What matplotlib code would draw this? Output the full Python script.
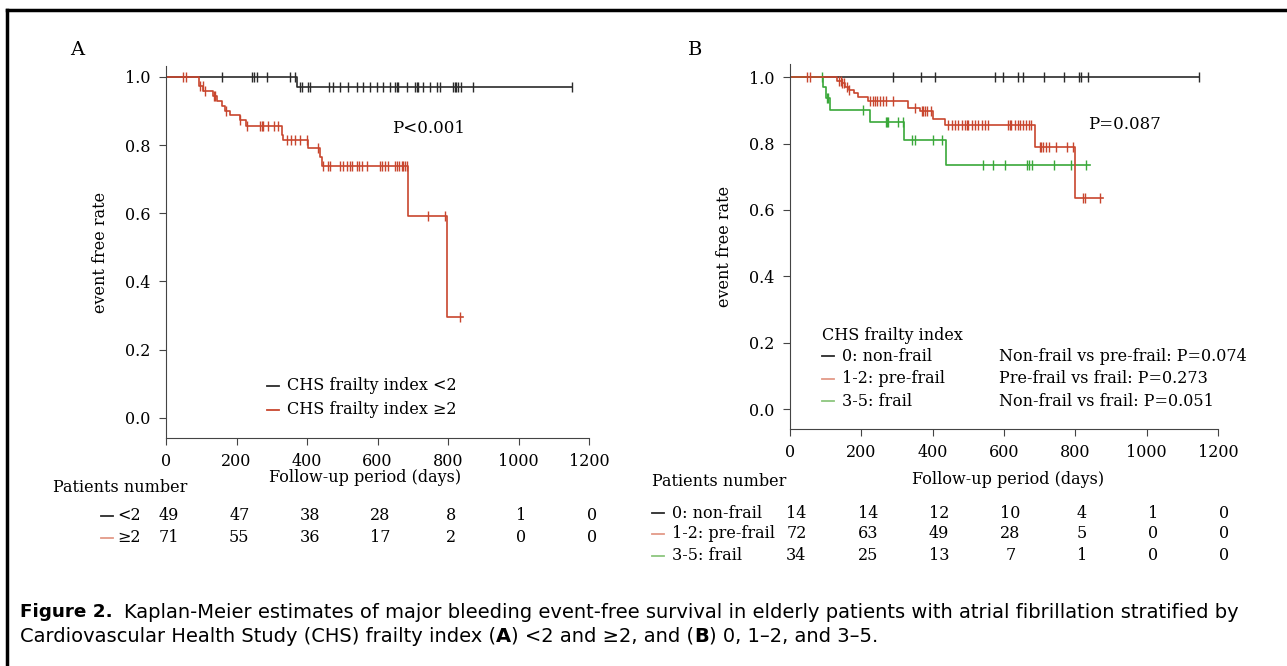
import numpy as np
import matplotlib
matplotlib.use("Agg")
from matplotlib import pyplot as plt
from matplotlib.lines import Line2D
from matplotlib.transforms import blended_transform_factory

# ---- data ----
# Panel A: CHS frailty index <2
a_lo_drop_t = [372]
a_lo_drop_s = [0.971]
a_lo_end = 1153
a_lo_cens = [160, 243, 250, 257, 286, 352, 366, 380, 385, 404, 409, 461, 475, 494,
             517, 541, 560, 579, 598, 617, 635, 650, 654, 659, 683, 706, 711, 716,
             730, 749, 768, 777, 815, 820, 824, 829, 838, 872, 1153]
# Panel A: CHS frailty index >=2
a_hi_drop_t = [95, 106, 134, 144, 158, 167, 182, 210, 227, 328, 333, 402, 437, 442, 687, 798]
a_hi_drop_s = [0.972, 0.958, 0.944, 0.930, 0.915, 0.901, 0.887, 0.873, 0.855, 0.830,
               0.815, 0.791, 0.766, 0.739, 0.591, 0.296]
a_hi_end = 843
a_hi_cens = [47, 57, 97, 104, 112, 137, 140, 170, 210, 231, 267, 271, 274, 290, 305,
             319, 342, 356, 366, 380, 399, 432, 446, 460, 465, 494, 503, 513, 522, 527,
             541, 548, 555, 569, 607, 614, 621, 631, 650, 656, 662, 669, 673, 678, 683,
             744, 791, 834]

# Panel B: 0 non-frail
b0_drop_t = []
b0_drop_s = []
b0_end = 1146
b0_cens = [288, 366, 406, 574, 596, 640, 652, 711, 767, 810, 817, 836, 1146]
# Panel B: 1-2 pre-frail
b1_drop_t = [131, 145, 155, 165, 180, 190, 220, 332, 364, 401, 434, 686, 798]
b1_drop_s = [0.990, 0.982, 0.972, 0.962, 0.952, 0.942, 0.927, 0.907, 0.897, 0.875,
             0.857, 0.789, 0.636]
b1_end = 878
b1_cens = [48, 56, 136, 142, 147, 152, 160, 166, 224, 232, 238, 245, 252, 260, 269,
           289, 350, 369, 374, 378, 383, 395, 444, 453, 462, 471, 481, 490, 495, 500,
           509, 518, 528, 537, 546, 556, 612, 616, 621, 630, 640, 644, 654, 663, 671,
           677, 700, 705, 710, 719, 726, 747, 777, 794, 822, 826, 868]
# Panel B: 3-5 frail
b2_drop_t = [93, 100, 112, 224, 319, 436]
b2_drop_s = [0.970, 0.937, 0.902, 0.865, 0.811, 0.736]
b2_end = 840
b2_cens = [90, 103, 107, 205, 269, 273, 276, 303, 316, 341, 350, 402, 427, 542, 570,
           604, 665, 671, 679, 740, 789, 829]

# at-risk tables
risk_days = [0, 200, 400, 600, 800, 1000, 1200]
risk_a_lo = [49, 47, 38, 28, 8, 1, 0]
risk_a_hi = [71, 55, 36, 17, 2, 0, 0]
risk_b0 = [14, 14, 12, 10, 4, 1, 0]
risk_b1 = [72, 63, 49, 28, 5, 0, 0]
risk_b2 = [34, 25, 13, 7, 1, 0, 0]

yticks = [0.0, 0.2, 0.4, 0.6, 0.8, 1.0]
xticks = [0, 200, 400, 600, 800, 1000, 1200]

BLACK = "#2b2b2b"
RED = "#c8462e"
GREEN = "#3aa83a"
RED_L = "#e39a88"
GREEN_L = "#8cc67e"

plt.rcParams["font.family"] = "DejaVu Serif"
FS = 11.5
W, H = 1287, 666


def km(ax, drop_t, drop_s, end, cens, color):
    t = np.array([0] + drop_t + [end], dtype=float)
    s = np.array([1.0] + drop_s + [drop_s[-1] if drop_s else 1.0])
    ax.step(t, s, where="post", color=color, lw=1.2)
    idx = np.searchsorted(t, np.array(cens, dtype=float), side="right") - 1
    ax.plot(cens, s[idx], ls="none", marker="|", ms=7.5, mew=1.0, color=color)


def style_axes(ax, ymin, ymax):
    ax.set_xlim(0, 1200)
    ax.set_ylim(ymin, ymax)
    ax.set_xticks(xticks)
    ax.set_yticks(yticks)
    ax.set_yticklabels([f"{v:.1f}" for v in yticks])
    for sp in ["top", "right"]:
        ax.spines[sp].set_visible(False)
    ax.spines["left"].set_color("#444444")
    ax.spines["bottom"].set_color("#444444")
    ax.tick_params(direction="out", length=5, color="#444444", labelsize=FS, pad=6)
    ax.set_ylabel("event free rate", fontsize=FS, labelpad=12)


def dash_label(xpx, ypx, color, label, gap=20):
    # short coloured line followed by its text, positions in pixels
    yy = 1 - ypx / H
    fig.add_artist(Line2D([xpx / W, (xpx + 12) / W], [yy, yy], transform=fig.transFigure,
                          color=color, lw=1.3))
    fig.text((xpx + gap) / W, yy, label, fontsize=FS, va="center")


fig = plt.figure(figsize=(12.87, 6.66), dpi=100)

# ---- panel A ----
axA = fig.add_axes([166 / W, 1 - 438 / H, 423 / W, 372 / H])
km(axA, a_lo_drop_t, a_lo_drop_s, a_lo_end, a_lo_cens, BLACK)
km(axA, a_hi_drop_t, a_hi_drop_s, a_hi_end, a_hi_cens, RED)
style_axes(axA, -0.059, 1.032)
axA.text(641, 0.85, "P<0.001", fontsize=12, va="center")
dash_label(267, 386, BLACK, "CHS frailty index <2")
dash_label(267, 410, RED, "CHS frailty index \u22652")
fig.text(70 / W, 1 - 50 / H, "A", fontsize=14, va="center")

# ---- panel B ----
axB = fig.add_axes([790 / W, 1 - 429 / H, 428 / W, 365 / H])
km(axB, b0_drop_t, b0_drop_s, b0_end, b0_cens, BLACK)
km(axB, b2_drop_t, b2_drop_s, b2_end, b2_cens, GREEN)
km(axB, b1_drop_t, b1_drop_s, b1_end, b1_cens, RED)
style_axes(axB, -0.06, 1.04)
axB.text(835, 0.858, "P=0.087", fontsize=12, va="center")
fig.text(688 / W, 1 - 50 / H, "B", fontsize=14, va="center")

leg_rows = [("0: non-frail", BLACK, "Non-frail vs pre-frail: P=0.074"),
            ("1-2: pre-frail", RED_L, "Pre-frail vs frail: P=0.273"),
            ("3-5: frail", GREEN_L, "Non-frail vs frail: P=0.051")]
fig.text(822 / W, 1 - 335 / H, "CHS frailty index", fontsize=FS, va="center")
for i, (lab, col, pv) in enumerate(leg_rows):
    ypx = 356 + 22.5 * i
    dash_label(822, ypx, col, lab)
    fig.text(999 / W, 1 - ypx / H, pv, fontsize=FS, va="center")

# ---- axis titles & risk tables ----
fig.text(365 / W, 1 - 478 / H, "Follow-up period (days)", fontsize=FS, ha="center", va="center")
fig.text(53 / W, 1 - 488 / H, "Patients number", fontsize=FS, va="center")
trA = blended_transform_factory(axA.transData, fig.transFigure)
for lab, col, vals, ypx in [("<2", BLACK, risk_a_lo, 516), ("\u22652", RED_L, risk_a_hi, 538)]:
    dash_label(101, ypx, col, lab, gap=16)
    for d, v in zip(risk_days, vals):
        axA.text(d + 8, 1 - ypx / H, str(v), transform=trA, fontsize=FS, ha="center", va="center")

fig.text(1008 / W, 1 - 480 / H, "Follow-up period (days)", fontsize=FS, ha="center", va="center")
fig.text(652 / W, 1 - 481 / H, "Patients number", fontsize=FS, va="center")
trB = blended_transform_factory(axB.transData, fig.transFigure)
for (lab, col, _), vals, ypx in zip(leg_rows, [risk_b0, risk_b1, risk_b2], [513, 534, 556]):
    dash_label(652, ypx, col, lab)
    for d, v in zip(risk_days, vals):
        axB.text(d + 18, 1 - ypx / H, str(v), transform=trB, fontsize=FS, ha="center", va="center")

# ---- frame & caption ----
fig.add_artist(Line2D([7 / W, 1.0], [1 - 10 / H, 1 - 10 / H], transform=fig.transFigure,
                      color="black", lw=2.5))
fig.add_artist(Line2D([7 / W, 7 / W], [0.0, 1 - 10 / H], transform=fig.transFigure,
                      color="black", lw=2.5))

CF = "DejaVu Sans"
CS = 14.0
head = fig.text(20 / W, 1 - 612 / H, "Figure 2.", fontsize=13.2, fontweight="bold",
                family=CF, va="center")
axA.annotate("Kaplan-Meier estimates of major bleeding event-free survival in elderly patients "
             "with atrial fibrillation stratified by",
             xy=(1, 0.5), xycoords=head, xytext=(11, 0), textcoords="offset pixels",
             va="center", fontsize=CS, family=CF, annotation_clip=False)
parts = [("Cardiovascular Health Study (CHS) frailty index (", "normal"), ("A", "bold"),
         (") <2 and \u22652, and (", "normal"), ("B", "bold"), (") 0, 1\u20132, and 3\u20135.", "normal")]
prev = fig.text(20 / W, 1 - 636 / H, parts[0][0], fontsize=CS, family=CF, va="center")
for txt, wt in parts[1:]:
    prev = axA.annotate(txt, xy=(1, 0), xycoords=prev, va="bottom", fontsize=CS,
                        family=CF, fontweight=wt, annotation_clip=False)

fig.savefig("out.png", dpi=100)
